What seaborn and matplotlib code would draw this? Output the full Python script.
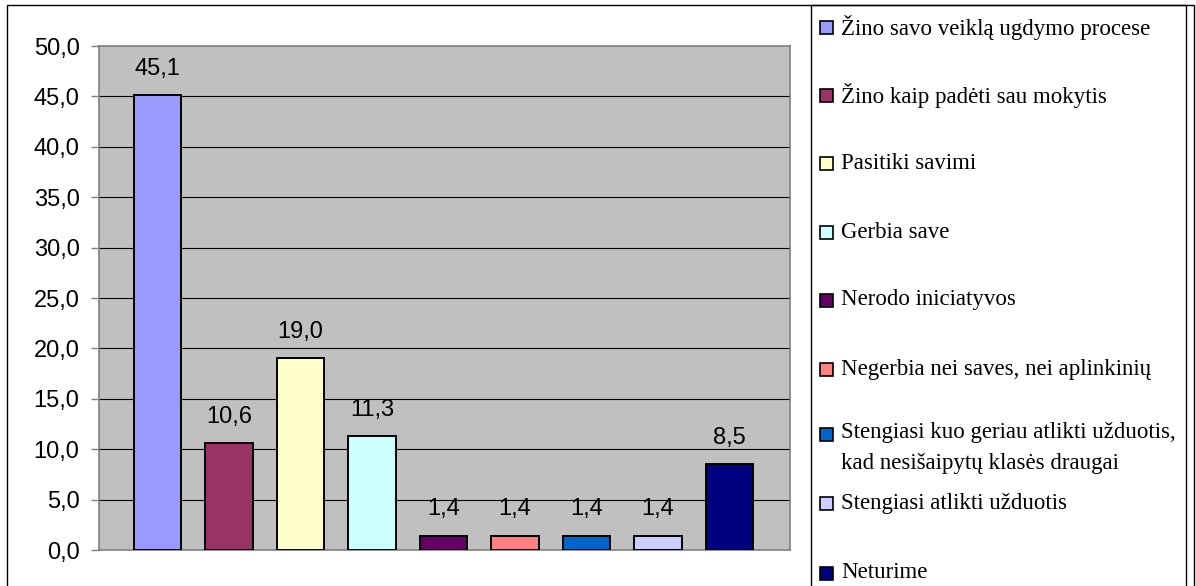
import matplotlib
matplotlib.use("Agg")
import matplotlib.pyplot as plt
import seaborn as sns
import pandas as pd
from matplotlib.patches import Rectangle
from matplotlib.ticker import MultipleLocator, FuncFormatter

# data
categories = [
    "Žino savo veiklą ugdymo procese",
    "Žino kaip padėti sau mokytis",
    "Pasitiki savimi",
    "Gerbia save",
    "Nerodo iniciatyvos",
    "Negerbia nei saves, nei aplinkinių",
    "Stengiasi kuo geriau atlikti užduotis,\nkad nesišaipytų klasės draugai",
    "Stengiasi atlikti užduotis",
    "Neturime",
]
values = [45.1, 10.6, 19.0, 11.3, 1.4, 1.4, 1.4, 1.4, 8.5]
colors = ["#9999FF", "#993366", "#FFFFCC", "#CCFFFF", "#660066",
          "#FF8080", "#0066CC", "#CCCCFF", "#000080"]
yticks = [0, 5, 10, 15, 20, 25, 30, 35, 40, 45, 50]

sns.set_style("white")
plt.rcParams["font.family"] = ["Liberation Sans", "DejaVu Sans"]
plt.rcParams["text.color"] = "black"
plt.rcParams["ytick.labelcolor"] = "black"

W, H = 1196, 586
fig = plt.figure(figsize=(W / 100, H / 100), dpi=100)
ax = fig.add_axes([99 / W, 1 - 550 / H, (790 - 99) / W, (550 - 46) / H])

df = pd.DataFrame({"cat": categories, "val": values})
sns.barplot(data=df, x="cat", y="val", hue="cat", palette=colors,
            saturation=1, legend=False, width=0.66, edgecolor="black",
            linewidth=1.4, ax=ax, zorder=3)

ax.set_facecolor("#C0C0C0")
ax.set_ylim(0, 50)
ax.set_xlim(-0.818, 8.846)
ax.yaxis.set_major_locator(MultipleLocator(5))
ax.yaxis.set_major_formatter(FuncFormatter(lambda v, p: f"{v:.1f}".replace(".", ",")))
for y in yticks[1:-1]:
    ax.axhline(y, color="black", lw=0.8, zorder=1)
ax.set_xticks([])
ax.set_xlabel("")
ax.set_ylabel("")
ax.tick_params(axis="y", direction="out", length=6, width=1, color="#808080",
               labelsize=17, labelcolor="black", pad=8, left=True)
for s in ax.spines.values():
    s.set_visible(True)
    s.set_color("#808080")
    s.set_linewidth(1.2)

# value labels
for i, v in enumerate(values):
    ax.annotate(f"{v:.1f}".replace(".", ","), (i, v), xytext=(0, 19),
                textcoords="offset points", ha="center", va="center",
                fontsize=17, color="black", zorder=4)

# chart frame and legend box
fig.patches.append(Rectangle((7 / W, -0.1), (1194 - 7) / W, 1.1 - 5 / H,
                             transform=fig.transFigure, fill=False,
                             edgecolor="black", lw=1))
fig.patches.append(Rectangle((811 / W, -0.1), (1186 - 811) / W, 1.1 - 5 / H,
                             transform=fig.transFigure, fill=False,
                             edgecolor="black", lw=1))

# legend entries (Excel style, fixed vertical positions)
legend_y = [27, 95, 164, 232, 300, 369, 448, 503, 573]
patch_y = [27, 95, 164, 232, 300, 369, 434, 503, 573]
for lab, col, ty, py in zip(categories, colors, legend_y, patch_y):
    fig.patches.append(Rectangle((820 / W, 1 - (py + 6.5) / H), 13 / W, 13 / H,
                                 transform=fig.transFigure, facecolor=col,
                                 edgecolor="black", lw=1.2))
    fig.text(841 / W, 1 - ty / H, lab, ha="left", va="center", fontsize=16.5,
             color="black", family=["Liberation Serif", "DejaVu Serif"],
             linespacing=1.6)

fig.savefig("out.png", dpi=100)
